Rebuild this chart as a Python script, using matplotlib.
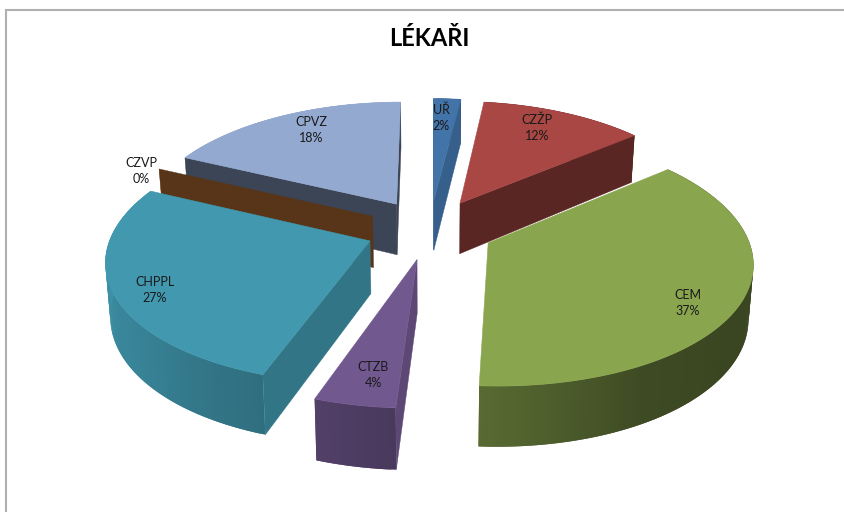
import numpy as np
import matplotlib
matplotlib.use("Agg")
import matplotlib.pyplot as plt
from matplotlib.colors import to_rgb

categories = ["UŘ", "CZŽP", "CEM", "CTZB", "CHPPL", "CZVP", "CPVZ"]
values = [2.0, 12.0, 37.0, 4.3, 26.7, 0.05, 18.0]
title = "LÉKAŘI"

top_colors = ["#4374A9", "#A94744", "#89A54E", "#71588F", "#4198AF", "#DB843D", "#93A9CF"]
wall_shade = [0.82, 0.53, 0.5, 0.82, 0.77, 0.40, 0.41]
label_pos = [(441, 118), (537, 128), (688, 303), (373, 375), (155, 290), (141, 171), (311, 130)]

CX, CY, A, B = 430.0, 229.0, 257.0, 121.0
PX, PY = 0.14, 0.128
EXPLODE, DEPTH, BOTTOM_PULL = 0.25, 52.0, 0.985

fig = plt.figure(figsize=(8.45, 5.12), dpi=100)
ax = fig.add_axes([0, 0, 1, 1])
ax.set_xlim(0, 845)
ax.set_ylim(512, 0)
ax.axis("off")


def project(X, Y, bottom=False):
    sx = 1.0 / (1.0 + PX * Y)
    sy = 1.0 / (1.0 + PY * Y)
    x = CX + A * X * sx
    y = CY - B * Y * sy
    if bottom:
        x = CX + (x - CX) * BOTTOM_PULL
        y = y + DEPTH * sy
    return x, y


def rim_shade(theta):
    return np.interp(theta, [120, 150, 184, 198, 230, 265, 295],
                     [0.42, 0.45, 0.65, 0.72, 0.85, 0.95, 1.0])


def shaded(color, f):
    return tuple(c * f for c in to_rgb(color))


def side(o, e, p):
    return (e[0] - o[0]) * (p[1] - o[1]) - (e[1] - o[1]) * (p[0] - o[0])


total = sum(values)
edges = np.concatenate([[0.0], np.cumsum(values)]) / total * 360.0
mids = (edges[:-1] + edges[1:]) / 2.0
order = np.argsort(-np.cos(np.radians(mids)))

for i in order:
    t0, t1, mid = edges[i], edges[i + 1], mids[i]
    color = top_colors[i]
    ox = EXPLODE * np.sin(np.radians(mid))
    oy = EXPLODE * np.cos(np.radians(mid))
    th = np.linspace(t0, t1, max(3, int(t1 - t0) + 2))
    Xs = ox + np.sin(np.radians(th))
    Ys = oy + np.cos(np.radians(th))

    tx, ty = project(Xs, Ys)
    bx, by = project(Xs, Ys, bottom=True)
    ax_top = project(ox, oy)
    ax_bot = project(ox, oy, bottom=True)

    # outer rim: overlapping strips so no seams show between them
    for k in range(len(th) - 1):
        n = min(k + 2, len(th) - 1)
        c = shaded(color, rim_shade((th[k] + th[k + 1]) / 2))
        ax.fill(np.r_[tx[k:n + 1], bx[k:n + 1][::-1]],
                np.r_[ty[k:n + 1], by[k:n + 1][::-1]],
                facecolor=c, edgecolor="none", lw=0, zorder=1)

    # radial walls that face the viewer
    mid_pt = (tx[len(tx) // 2], ty[len(ty) // 2])
    wall_c = shaded(color, wall_shade[i])
    for j in (0, -1):
        e = (tx[j], ty[j])
        if side(ax_top, e, ax_bot) * side(ax_top, e, mid_pt) < 0:
            ax.fill([ax_top[0], tx[j], bx[j], ax_bot[0]],
                    [ax_top[1], ty[j], by[j], ax_bot[1]],
                    facecolor=wall_c, edgecolor=wall_c, lw=0.3, zorder=1)

    # top face
    if values[i] >= 0.5:
        ax.fill(np.r_[ax_top[0], tx], np.r_[ax_top[1], ty],
                facecolor=color, edgecolor=color, lw=0.4, zorder=1)

for name, val, (lx, ly) in zip(categories, values, label_pos):
    ax.text(lx, ly, f"{name}\n{round(val / total * 100):d}%", ha="center", va="center",
            family="Lato", fontsize=9, color="#1a1a1a", linespacing=1.42, zorder=5)

ax.text(429, 38, title, ha="center", va="center", family="Lato",
        fontweight="bold", fontsize=17, color="black", zorder=5)

ax.plot([6, 6, 845], [512, 10, 10], color="#b0b0b0", lw=1.5, zorder=0,
        solid_joinstyle="miter", clip_on=True)

fig.savefig("out.png", dpi=100)
